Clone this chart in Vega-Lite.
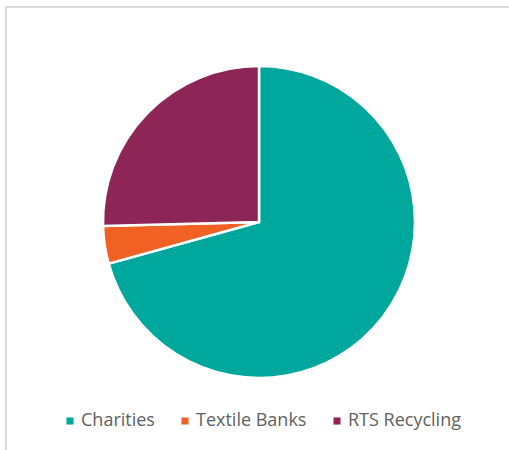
{
  "$schema": "https://vega.github.io/schema/vega-lite/v6.json",
  "width": 506,
  "height": 446,
  "autosize": {"type": "none"},
  "padding": {"left": 6, "top": 7, "right": 0, "bottom": 0},
  "background": "white",
  "config": {
    "view": {"stroke": null},
    "font": "Open Sans"
  },
  "data": {
    "values": [
      {"source": "Charities", "share": 70.7, "idx": 1},
      {"source": "Textile Banks", "share": 3.9, "idx": 2},
      {"source": "RTS Recycling", "share": 25.4, "idx": 3}
    ]
  },
  "layer": [
    {
      "mark": {"type": "rect", "fill": null, "stroke": "#d9d9d9", "strokeWidth": 2},
      "encoding": {}
    },
    {
      "mark": {"type": "arc", "outerRadius": 156, "stroke": "white", "strokeWidth": 2.5, "yOffset": -8},
      "encoding": {
        "theta": {"field": "share", "type": "quantitative", "stack": true},
        "order": {"field": "idx", "type": "quantitative", "sort": "ascending"},
        "color": {
          "field": "source",
          "type": "nominal",
          "sort": ["Charities", "Textile Banks", "RTS Recycling"],
          "scale": {
            "domain": ["Charities", "Textile Banks", "RTS Recycling"],
            "range": ["#00A79D", "#F26124", "#8E2557"]
          },
          "legend": {
            "title": null,
            "orient": "none",
            "direction": "horizontal",
            "legendX": 55,
            "legendY": 405,
            "symbolType": "square",
            "symbolSize": 50,
            "symbolStrokeWidth": 0,
            "labelFont": "Open Sans",
            "labelFontSize": 18,
            "labelColor": "#5f5f5f",
            "labelOffset": 2,
            "columnPadding": 21
          }
        },
        "tooltip": [{"field": "source"}, {"field": "share"}]
      }
    }
  ]
}
